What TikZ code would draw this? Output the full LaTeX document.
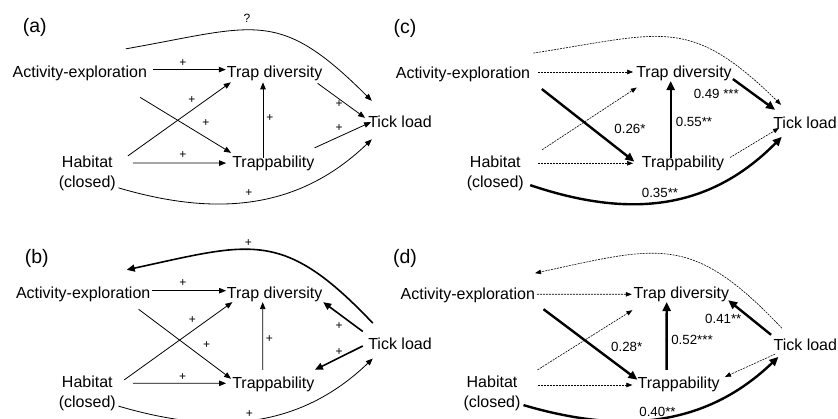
\documentclass[tikz,border=0pt]{standalone}
\usepackage{fontspec}
\setmainfont{Liberation Sans}
\usetikzlibrary{arrows.meta}
\tikzset{
    var/.style={font=\fontsize{16}{20}\selectfont, inner sep=0pt, text height=11.7pt, text depth=3.4pt},
    varm/.style={font=\fontsize{16}{20}\selectfont, inner sep=0pt, align=center},
    panel/.style={font=\fontsize{19.5}{22}\selectfont, inner sep=0pt},
    sign/.style={font=\fontsize{12}{14}\selectfont, inner sep=0pt},
    coef/.style={font=\fontsize{13.3}{15}\selectfont, inner sep=0pt},
    link/.style={line width=0.8pt, -{Triangle[length=7pt,width=5.5pt]}},
    linkb/.style={line width=1.6pt, -{Triangle[length=8pt,width=7pt]}},
    linkt/.style={line width=2.4pt, -{Triangle[length=9pt,width=8pt]}},
    linkd/.style={line width=0.6pt, dash pattern=on 2pt off 1pt, -{Triangle[length=6pt,width=4.5pt]}}
}

\begin{document}
\begin{tikzpicture}[x=1pt,y=-1pt]
                        \useasboundingbox (0,0) rectangle (838,419);
                        \clip (0,0) rectangle (838,419);

                        \node[panel] (lbla) at (34.7,27) {(a)};
                        \node[var] (acta) at (79.8,73.6) {Activity-exploration};
                        \node[var] (tda) at (274.7,73.6) {Trap diversity};
                        \node[var] (tra) at (273.35,163.6) {Trappability};
                        \node[varm] (haba) at (87.3,173.5) {Habitat\\(closed)};
                        \node[var] (tla) at (400,123.6) {Tick load};

                        \draw[link] ([xshift=6pt,yshift=4pt]acta.east) -- ([xshift=-1pt,yshift=4pt]tda.west);
                        \draw[link] ([xshift=-7pt,yshift=-16pt]acta.south east) -- ([xshift=-1pt,yshift=3pt]tra.north west);
                        \draw[link] ([xshift=12pt]haba.north east) -- ([xshift=4pt,yshift=-1pt]tda.south west);
                        \draw[link] ([xshift=17pt,yshift=10.5pt]haba.east) -- ([xshift=-6pt,yshift=0.5pt]tra.west);
                        \draw[link] ([xshift=-10.35pt,yshift=-2pt]tra.north) -- ([xshift=-11.7pt,yshift=-1pt]tda.south);
                        \draw[link] ([xshift=-5pt,yshift=-2pt]tda.south east) -- ([xshift=-3pt,yshift=-2pt]tla.north west);
                        \draw[link] ([yshift=8pt]tra.north east) -- ([xshift=3pt,yshift=1.5pt]tla.west);
                        \draw[link] ([xshift=46pt,yshift=17pt]acta.north) .. controls +(130.5,-23) and +(-93.7,-93.7) .. ([xshift=3.7pt,yshift=15pt]tla.north west);
                        \draw[link] ([xshift=2.5pt,yshift=3.3pt]haba.south east) .. controls +(95,28) and +(-75,72) .. ([xshift=3.7pt,yshift=-8pt]tla.south west);

                        \node[sign] (qa) at (247,18) {?};
                        \node[sign] (pa1) at (183,63) {+};
                        \node[sign] (pa2) at (206,123) {+};
                        \node[sign] (pa3) at (192,100) {+};
                        \node[sign] (pa4) at (183,155) {+};
                        \node[sign] (pa5) at (270,118) {+};
                        \node[sign] (pa6) at (339,104) {+};
                        \node[sign] (pa7) at (339,128) {+};
                        \node[sign] (pa8) at (249,193) {+};

                        \node[panel] (lblb) at (36.7,258.3) {(b)};
                        \node[var] (actb) at (83.2,294.8) {Activity-exploration};
                        \node[var] (tdb) at (274.7,294.4) {Trap diversity};
                        \node[var] (trb) at (273.35,383.9) {Trappability};
                        \node[varm] (habb) at (87.3,393.3) {Habitat\\(closed)};
                        \node[var] (tlb) at (400,344.9) {Tick load};

                        \draw[link] ([xshift=1.4pt,yshift=4.1pt]actb.east) -- ([xshift=-0.7pt,yshift=3.7pt]tdb.west);
                        \draw[link] ([xshift=-12pt,yshift=-6.7pt]actb.south east) -- ([xshift=-1pt,yshift=-2.6pt]trb.north west);
                        \draw[link] ([xshift=8.25pt,yshift=-4.25pt]habb.north east) -- ([xshift=5.6pt]tdb.south west);
                        \draw[link] ([xshift=17pt,yshift=10pt]habb.east) -- ([xshift=-6pt,yshift=0.6pt]trb.west);
                        \draw[link] ([xshift=-10.65pt,yshift=6.35pt]trb.north) -- ([xshift=-12pt]tdb.south);
                        \draw[linkb] ([xshift=-5.3pt,yshift=5.65pt]tlb.north west) -- ([xshift=0.6pt]tdb.south east);
                        \draw[linkb] ([xshift=-5.3pt,yshift=-1.1pt]tlb.west) -- ([xshift=0.3pt,yshift=6.35pt]trb.north east);
                        \draw[linkb] ([xshift=4.7pt,yshift=14pt]tlb.north west) .. controls +(-90,-95) and +(125,-27) .. ([xshift=43.5pt,yshift=17.25pt]actb.north);
                        \draw[link] ([xshift=2.5pt,yshift=4.85pt]habb.south east) .. controls +(95,28) and +(-75,72) .. ([xshift=4.7pt,yshift=-5.85pt]tlb.south west);

                        \node[sign] (pb1) at (183,283.3) {+};
                        \node[sign] (pb2) at (206.7,345) {+};
                        \node[sign] (pb3) at (192.3,320) {+};
                        \node[sign] (pb4) at (182.7,376.7) {+};
                        \node[sign] (pb5) at (269.3,339.3) {+};
                        \node[sign] (pb6) at (339,325.7) {+};
                        \node[sign] (pb7) at (339,351.7) {+};
                        \node[sign] (pb8) at (248.3,243.3) {+};
                        \node[sign] (pb9) at (249.3,414) {+};

                        \node[panel] (lblc) at (405,28) {(c)};
                        \node[var] (actc) at (463,74.3) {Activity-exploration};
                        \node[var] (tdc) at (684,73.3) {Trap diversity};
                        \node[var] (trc) at (683,163.6) {Trappability};
                        \node[varm] (habc) at (495.3,173.5) {Habitat\\(closed)};
                        \node[var] (tlc) at (805,124.6) {Tick load};

                        \draw[linkd] ([xshift=8pt,yshift=2.3pt]actc.east) -- ([xshift=-3pt,yshift=1.3pt]tdc.west);
                        \draw[linkt] ([xshift=11.5pt,yshift=-7pt]actc.south east) -- ([xshift=-7.4pt,yshift=2pt]trc.west);
                        \draw[linkd] ([xshift=18pt,yshift=6pt]habc.north east) -- ([xshift=0.7pt,yshift=-6.5pt]tdc.south west);
                        \draw[linkd] ([xshift=14.25pt,yshift=10.2pt]habc.east) -- ([xshift=-8.7pt,yshift=0.3pt]trc.west);
                        \draw[linkt] ([xshift=-12.3pt,yshift=-2pt]trc.north) -- ([xshift=-13.3pt]tdc.south);
                        \draw[linkt] ([xshift=1pt,yshift=2pt]tdc.south east) -- ([xshift=2pt,yshift=7pt]tlc.north west);
                        \draw[linkd] ([xshift=5.65pt,yshift=6pt]trc.east) -- ([xshift=6pt,yshift=-3.4pt]tlc.west);
                        \draw[linkd] ([xshift=70.3pt,yshift=13.45pt]actc.north) .. controls +(130,-20) and +(-92,-90) .. ([xshift=8pt,yshift=12pt]tlc.north west);
                        \draw[linkt] ([xshift=6.25pt,yshift=6pt]habc.south east) .. controls +(95,32) and +(-75,76) .. ([xshift=8.7pt,yshift=-4.5pt]tlc.south west);

                        \node[coef] (cc1) at (630,129) {0.26*};
                        \node[coef] (cc2) at (694,121.7) {0.55**};
                        \node[coef] (cc3) at (716.3,94.3) {0.49 ***};
                        \node[coef] (cc4) at (660,192.7) {0.35**};

                        \node[panel] (lbld) at (405,258) {(d)};
                        \node[var] (actd) at (467.8,294.9) {Activity-exploration};
                        \node[var] (tdd) at (681.3,294.3) {Trap diversity};
                        \node[var] (trd) at (678.65,383.9) {Trappability};
                        \node[varm] (habd) at (492,393.3) {Habitat\\(closed)};
                        \node[var] (tld) at (805.3,345.9) {Tick load};

                        \draw[linkd] ([xshift=1.7pt,yshift=0.6pt]actd.east) -- ([xshift=-1.6pt]tdd.west);
                        \draw[linkt] ([xshift=8.35pt,yshift=-6.55pt]actd.south east) -- ([yshift=-3.6pt]trd.north west);
                        \draw[linkd] ([xshift=16.85pt,yshift=5.75pt]habd.north east) -- ([xshift=-1pt,yshift=-8.15pt]tdd.south west);
                        \draw[linkd] ([xshift=17.25pt,yshift=8.3pt]habd.east) -- ([xshift=-5pt,yshift=-1.1pt]trd.west);
                        \draw[linkt] ([xshift=-12pt,yshift=6.35pt]trd.north) -- ([xshift=-14.6pt]tdd.south);
                        \draw[linkt] ([xshift=-2.3pt,yshift=3.35pt]tld.north west) -- ([xshift=-1pt,yshift=1.85pt]tdd.south east);
                        \draw[linkd] ([xshift=1.7pt,yshift=-0.5pt]tld.south west) -- ([xshift=5pt,yshift=7pt]trd.east);
                        \draw[linkd] ([xshift=8.4pt,yshift=10pt]tld.north west) .. controls +(-90,-95) and +(125,-27) .. ([xshift=67.2pt,yshift=14pt]actd.north);
                        \draw[linkt] ([xshift=2.85pt,yshift=5.85pt]habd.south east) .. controls +(95,28) and +(-75,72) .. ([xshift=5pt,yshift=-3.25pt]tld.south west);

                        \node[coef] (cd1) at (626.7,347.3) {0.28*};
                        \node[coef] (cd2) at (692,340) {0.52***};
                        \node[coef] (cd3) at (723.3,319) {0.41**};
                        \node[coef] (cd4) at (657.5,411.7) {0.40**};
                    \end{tikzpicture}
\end{document}
